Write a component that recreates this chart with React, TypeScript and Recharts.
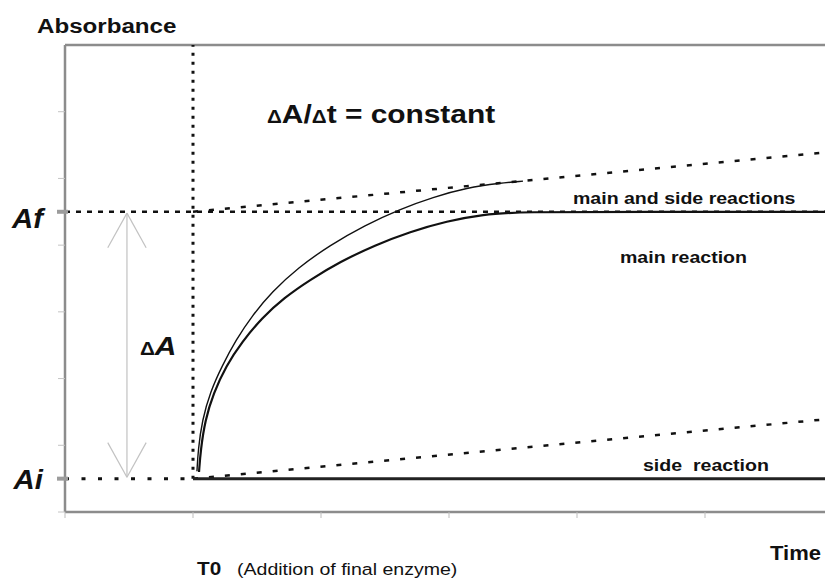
import { LineChart, Line, XAxis, YAxis, ReferenceLine } from "recharts";

// time axis: T0 = 1, absorbance axis: Ai = 0.5, Af = 4.5
const T0 = 1;
const AI = 0.5;
const AF = 4.5;
const xTicks = [0, 1, 2, 3, 4, 5, 6];
const yTicks = [0, 0.5, 1, 2, 3, 4, 4.5, 5, 6, 7];

// main reaction (thicker curve, plateaus at Af)
const mainCurve = [
  { x: 1.047, y: 0.6 },
  { x: 1.06, y: 0.93 },
  { x: 1.095, y: 1.38 },
  { x: 1.16, y: 1.78 },
  { x: 1.258, y: 2.19 },
  { x: 1.383, y: 2.55 },
  { x: 1.539, y: 2.91 },
  { x: 1.711, y: 3.21 },
  { x: 1.914, y: 3.48 },
  { x: 2.148, y: 3.75 },
  { x: 2.422, y: 4.0 },
  { x: 2.695, y: 4.2 },
  { x: 2.984, y: 4.36 },
  { x: 3.266, y: 4.46 },
  { x: 3.555, y: 4.5 },
  { x: 4.5, y: 4.5 },
  { x: 6, y: 4.5 },
];

// main and side reactions (thin curve)
const mainSideCurve = [
  { x: 1.031, y: 0.61 },
  { x: 1.04, y: 0.93 },
  { x: 1.072, y: 1.38 },
  { x: 1.135, y: 1.8 },
  { x: 1.227, y: 2.19 },
  { x: 1.336, y: 2.58 },
  { x: 1.461, y: 2.94 },
  { x: 1.617, y: 3.3 },
  { x: 1.82, y: 3.66 },
  { x: 2.07, y: 4.0 },
  { x: 2.344, y: 4.3 },
  { x: 2.617, y: 4.54 },
  { x: 2.875, y: 4.72 },
  { x: 3.141, y: 4.86 },
  { x: 3.398, y: 4.93 },
  { x: 3.578, y: 4.96 },
];

// constant slope lines
const mainSideSlope = [
  { x: 1, y: 4.5 },
  { x: 6, y: 5.4 },
];
const sideSlope = [
  { x: 1, y: 0.5 },
  { x: 6, y: 1.4 },
];
const sideFlat = [
  { x: 1, y: 0.5 },
  { x: 6, y: 0.5 },
];

const yLabels = [
  { value: AF, text: "Af", dy: 16 },
  { value: AI, text: "Ai", dy: 10 },
];

// gray double arrow for ΔA
const arrowX = 0.484;
const arrowTop = 4.48;
const arrowBottom = 0.52;
const headW = 0.15;
const headH = 0.52;

const FONT = '"Liberation Sans", Arial, Helvetica, sans-serif';
const AXIS_GRAY = "#8c8c8c";
const ARROW_GRAY = "#c2c2c2";

const YTick = (props: any) => {
  const { x, y, payload } = props;
  const label = yLabels.find((l) => l.value === payload.value);
  if (label) {
    return (
      <g>
        <line x1={x - 8} x2={x + 3} y1={y} y2={y} stroke="#9c9c9c" strokeWidth={4} />
        <text
          transform={`translate(${x - 22},${y + label.dy}) scale(1.05,1)`}
          textAnchor="end"
          fontFamily={FONT}
          fontWeight="bold"
          fontStyle="italic"
          fontSize={28}
          fill="#111"
        >
          {label.text}
        </text>
      </g>
    );
  }
  if (payload.value === 7) return <g />;
  return <line x1={x - 7} x2={x} y1={y} y2={y} stroke="#c4c4c4" strokeWidth={1} />;
};

const T = ({ x, y, size, bold = true, sx = 1.15, children }: any) => (
  <text
    transform={`translate(${x},${y}) scale(${sx},1)`}
    fontFamily={FONT}
    fontWeight={bold ? "bold" : "normal"}
    fontSize={size}
    fill="#111"
  >
    {children}
  </text>
);

export default function App() {
  return (
    <div
      style={{
        position: "fixed",
        left: 0,
        top: 0,
        width: 825,
        height: 580,
        overflow: "hidden",
        background: "#fff",
      }}
    >
      <LineChart
        width={860}
        height={580}
        margin={{ top: 45, right: 27, bottom: 0, left: 0 }}
      >
        <XAxis
          dataKey="x"
          type="number"
          domain={[0, 6]}
          ticks={xTicks}
          interval={0}
          height={68}
          stroke={AXIS_GRAY}
          axisLine={{ stroke: AXIS_GRAY, strokeWidth: 2.5 }}
          tickLine={{ stroke: "#bdbdbd", strokeWidth: 1 }}
          tickSize={6}
          tickFormatter={() => ""}
        />
        <YAxis
          type="number"
          domain={[0, 7]}
          ticks={yTicks}
          interval={0}
          width={65}
          axisLine={{ stroke: AXIS_GRAY, strokeWidth: 2.5 }}
          tickLine={false}
          tickSize={0}
          tickMargin={0}
          tick={<YTick />}
        />
        <ReferenceLine y={7} stroke={AXIS_GRAY} strokeWidth={2.5} />

        {/* Af dashed level and Ai dashed level */}
        <ReferenceLine y={AF} stroke="#111" strokeWidth={2.5} strokeDasharray="5 6" />
        <ReferenceLine
          segment={[
            { x: 0, y: AI },
            { x: T0, y: AI },
          ]}
          stroke="#111"
          strokeWidth={3}
          strokeDasharray="4 12.5"
        />
        {/* T0 vertical dotted line */}
        <ReferenceLine
          segment={[
            { x: T0, y: AI },
            { x: T0, y: 7 },
          ]}
          stroke="#111"
          strokeWidth={3}
          strokeDasharray="3 6"
        />

        {/* ΔA arrow */}
        <ReferenceLine
          segment={[
            { x: arrowX, y: arrowBottom },
            { x: arrowX, y: arrowTop },
          ]}
          stroke={ARROW_GRAY}
          strokeWidth={1.2}
        />
        <ReferenceLine
          segment={[
            { x: arrowX - headW, y: arrowTop - headH },
            { x: arrowX, y: arrowTop },
          ]}
          stroke={ARROW_GRAY}
          strokeWidth={1.2}
        />
        <ReferenceLine
          segment={[
            { x: arrowX + headW, y: arrowTop - headH },
            { x: arrowX, y: arrowTop },
          ]}
          stroke={ARROW_GRAY}
          strokeWidth={1.2}
        />
        <ReferenceLine
          segment={[
            { x: arrowX - headW, y: arrowBottom + headH },
            { x: arrowX, y: arrowBottom },
          ]}
          stroke={ARROW_GRAY}
          strokeWidth={1.2}
        />
        <ReferenceLine
          segment={[
            { x: arrowX + headW, y: arrowBottom + headH },
            { x: arrowX, y: arrowBottom },
          ]}
          stroke={ARROW_GRAY}
          strokeWidth={1.2}
        />

        <Line
          data={mainSideSlope}
          dataKey="y"
          type="linear"
          stroke="#111"
          strokeWidth={2.5}
          strokeDasharray="5 11"
          dot={false}
          isAnimationActive={false}
        />
        <Line
          data={sideSlope}
          dataKey="y"
          type="linear"
          stroke="#111"
          strokeWidth={2.5}
          strokeDasharray="5 11"
          dot={false}
          isAnimationActive={false}
        />
        <Line
          data={sideFlat}
          dataKey="y"
          type="linear"
          stroke="#222"
          strokeWidth={3}
          dot={false}
          isAnimationActive={false}
        />
        <Line
          data={mainSideCurve}
          dataKey="y"
          type="basis"
          stroke="#111"
          strokeWidth={1.4}
          dot={false}
          isAnimationActive={false}
        />
        <Line
          data={mainCurve}
          dataKey="y"
          type="basis"
          stroke="#111"
          strokeWidth={2.2}
          dot={false}
          isAnimationActive={false}
        />
      </LineChart>

      <svg
        width={825}
        height={580}
        style={{ position: "absolute", left: 0, top: 0, pointerEvents: "none" }}
      >
        <T x={37} y={33} size={21}>Absorbance</T>
        <T x={267} y={123} size={26}>
          <tspan fontSize={18}>Δ</tspan>A/<tspan fontSize={18}>Δ</tspan>t = constant
        </T>
        <T x={140} y={355} size={26}>
          <tspan fontSize={18}>Δ</tspan>
          <tspan fontStyle="italic">A</tspan>
        </T>
        <T x={573} y={204} size={17}>main and side reactions</T>
        <T x={620} y={263} size={17}>main reaction</T>
        <T x={643} y={471} size={17}>side{"\u00a0\u00a0"}reaction</T>
        <T x={770} y={560} size={20} sx={1.1}>Time</T>
        <T x={197} y={575} size={18}>T0</T>
        <T x={237} y={575} size={17} bold={false}>(Addition of final enzyme)</T>
      </svg>
    </div>
  );
}
